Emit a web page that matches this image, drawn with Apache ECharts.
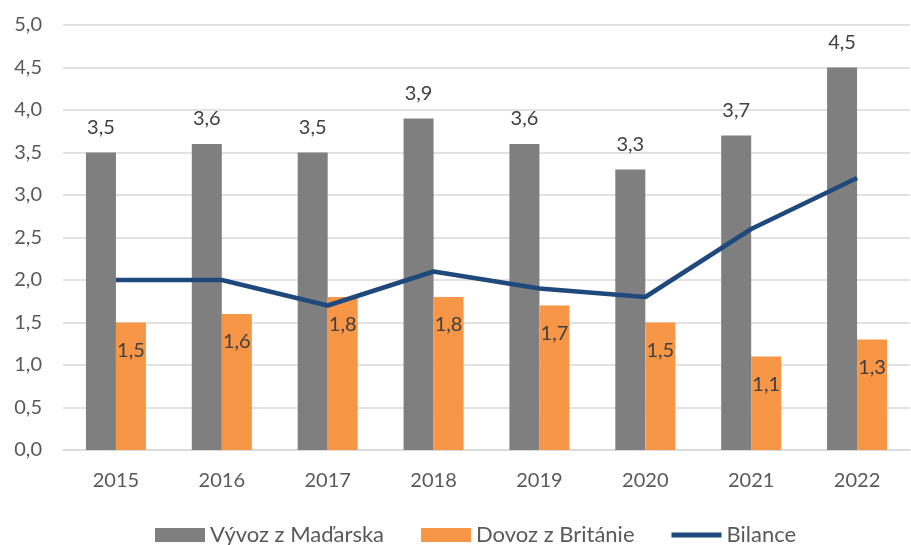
<!DOCTYPE html>
<html><head><meta charset="utf-8">
<script src="https://cdn.jsdelivr.net/npm/echarts@6/dist/echarts.min.js"></script>
<style>html,body{margin:0;padding:0;background:#fff}#c{width:911px;height:545px}</style>
</head><body><div id="c"></div>
<script>
const categories = ['2015','2016','2017','2018','2019','2020','2021','2022'];
const vyvoz = [3.5, 3.6, 3.5, 3.9, 3.6, 3.3, 3.7, 4.5];
const dovoz = [1.5, 1.6, 1.8, 1.8, 1.7, 1.5, 1.1, 1.3];
const bilance = [2.0, 2.0, 1.7, 2.1, 1.9, 1.8, 2.6, 3.2];
const fmt = v => v.toFixed(1).replace('.', ',');
const FONT = 'Lato, "Liberation Sans", Arial, sans-serif';
const FS = 20;
const chart = echarts.init(document.getElementById('c'));
chart.setOption({
  animation: false,
  textStyle: {fontFamily: FONT},
  grid: {left: 63, right: 1, top: 25, bottom: 95},
  legend: {
    top: 519, left: 150, itemWidth: 50, itemHeight: 14, itemGap: 37,
    textStyle: {fontSize: 22, color: '#595959', fontFamily: FONT},
    data: [
      {name: 'Vývoz z Maďarska', icon: 'rect'},
      {name: 'Dovoz z Británie', icon: 'rect'},
      {name: 'Bilance', icon: 'path://M0,0 L50,0 L50,5 L0,5 Z'}
    ]
  },
  xAxis: {
    type: 'category', data: categories,
    axisLine: {lineStyle: {color: '#d9d9d9', width: 1.5}},
    axisTick: {show: false},
    axisLabel: {fontSize: FS, color: '#595959', margin: 21, fontFamily: FONT}
  },
  yAxis: {
    type: 'value', min: 0, max: 5, interval: 0.5,
    axisLine: {show: false}, axisTick: {show: false},
    splitLine: {lineStyle: {color: '#d9d9d9', width: 1.5}},
    axisLabel: {fontSize: FS, color: '#595959', margin: 21, formatter: v => fmt(v), fontFamily: FONT}
  },
  series: [
    {
      name: 'Vývoz z Maďarska', type: 'bar', data: vyvoz, barWidth: 30, barGap: '0%',
      itemStyle: {color: '#7f7f7f'},
      label: {show: true, position: 'top', distance: 15, fontSize: FS, color: '#404040', formatter: p => fmt(p.value), fontFamily: FONT}
    },
    {
      name: 'Dovoz z Británie', type: 'bar', data: dovoz, barWidth: 30, barGap: '0%',
      itemStyle: {color: '#f79646'},
      label: {show: true, position: 'insideTop', distance: 18, fontSize: FS, color: '#404040', formatter: p => fmt(p.value), fontFamily: FONT}
    },
    {
      name: 'Bilance', type: 'line', data: bilance, symbol: 'none',
      lineStyle: {color: '#1f497d', width: 4.5}, itemStyle: {color: '#1f497d'}
    }
  ]
});
</script></body></html>
